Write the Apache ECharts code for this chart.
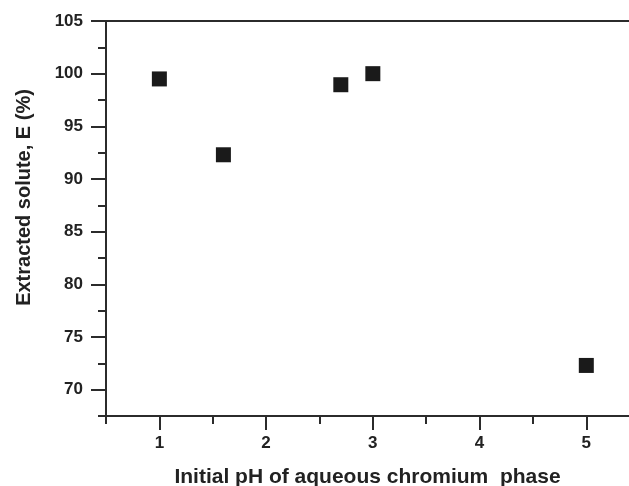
<!DOCTYPE html>
<html>
<head>
<meta charset="utf-8">
<script src="https://cdn.jsdelivr.net/npm/echarts@6/dist/echarts.min.js"></script>
<style>html,body{margin:0;padding:0;background:#fff}#c{width:629px;height:486px}</style>
</head>
<body>
<div id="c"></div>
<script>
const phValues = [1.0, 1.6, 2.7, 3.0, 5.0];
const extracted = [99.5, 92.3, 98.95, 100.0, 72.3];
const xMajorTicks = [1, 2, 3, 4, 5];
const xMinorTicks = [0.5, 1.5, 2.5, 3.5, 4.5];
const yMajorTicks = [70, 75, 80, 85, 90, 95, 100, 105];
const yMinorTicks = [67.5, 72.5, 77.5, 82.5, 87.5, 92.5, 97.5, 102.5];
const xTitle = 'Initial pH of aqueous chromium  phase';
const yTitle = 'Extracted solute, E (%)';

const axisColor = '#2b2b2b';
const textColor = '#222';
const font = 'Liberation Sans, Arial, sans-serif';
const xMin = 0.5, xMax = 5.4, yMin = 67.5, yMax = 105;

const chart = echarts.init(document.getElementById('c'));
const baseX = {
  type: 'value', min: xMin, max: xMax, position: 'bottom',
  splitLine: {show: false},
  axisLine: {show: true, onZero: false, lineStyle: {color: axisColor, width: 2}}
};
const baseY = {
  type: 'value', min: yMin, max: yMax, position: 'left',
  splitLine: {show: false},
  axisLine: {show: true, onZero: false, lineStyle: {color: axisColor, width: 2}}
};
chart.setOption({
  animation: false,
  grid: {left: 106, top: 21, right: 0, bottom: 70, containLabel: false, outerBoundsMode: 'none'},
  xAxis: [
    Object.assign({}, baseX, {
      name: xTitle, nameLocation: 'middle', nameGap: 51,
      nameTextStyle: {fontFamily: font, fontWeight: 'bold', fontSize: 21, color: textColor},
      axisTick: {show: true, customValues: xMajorTicks, length: 14, lineStyle: {color: axisColor, width: 2}},
      axisLabel: {show: true, customValues: xMajorTicks, margin: 19, fontFamily: font, fontWeight: 'bold', fontSize: 17, color: textColor}
    }),
    Object.assign({}, baseX, {
      axisTick: {show: true, customValues: xMinorTicks, length: 8, lineStyle: {color: axisColor, width: 2}},
      axisLabel: {show: false}
    }),
    Object.assign({}, baseX, {
      position: 'top',
      axisTick: {show: false},
      axisLabel: {show: false}
    })
  ],
  yAxis: [
    Object.assign({}, baseY, {
      name: yTitle, nameLocation: 'middle', nameGap: 72,
      nameTextStyle: {fontFamily: font, fontWeight: 'bold', fontSize: 20, color: textColor, padding: [0, 0, 0, 42]},
      axisTick: {show: true, customValues: yMajorTicks, length: 15, lineStyle: {color: axisColor, width: 2}},
      axisLabel: {show: true, customValues: yMajorTicks, margin: 23, fontFamily: font, fontWeight: 'bold', fontSize: 17, color: textColor}
    }),
    Object.assign({}, baseY, {
      axisTick: {show: true, customValues: yMinorTicks, length: 8, lineStyle: {color: axisColor, width: 2}},
      axisLabel: {show: false}
    })
  ],
  series: [{
    type: 'scatter',
    symbol: 'rect',
    symbolSize: 15,
    itemStyle: {color: '#1a1a1a', opacity: 1},
    data: phValues.map((x, i) => [x, extracted[i]])
  }]
});
</script>
</body>
</html>
